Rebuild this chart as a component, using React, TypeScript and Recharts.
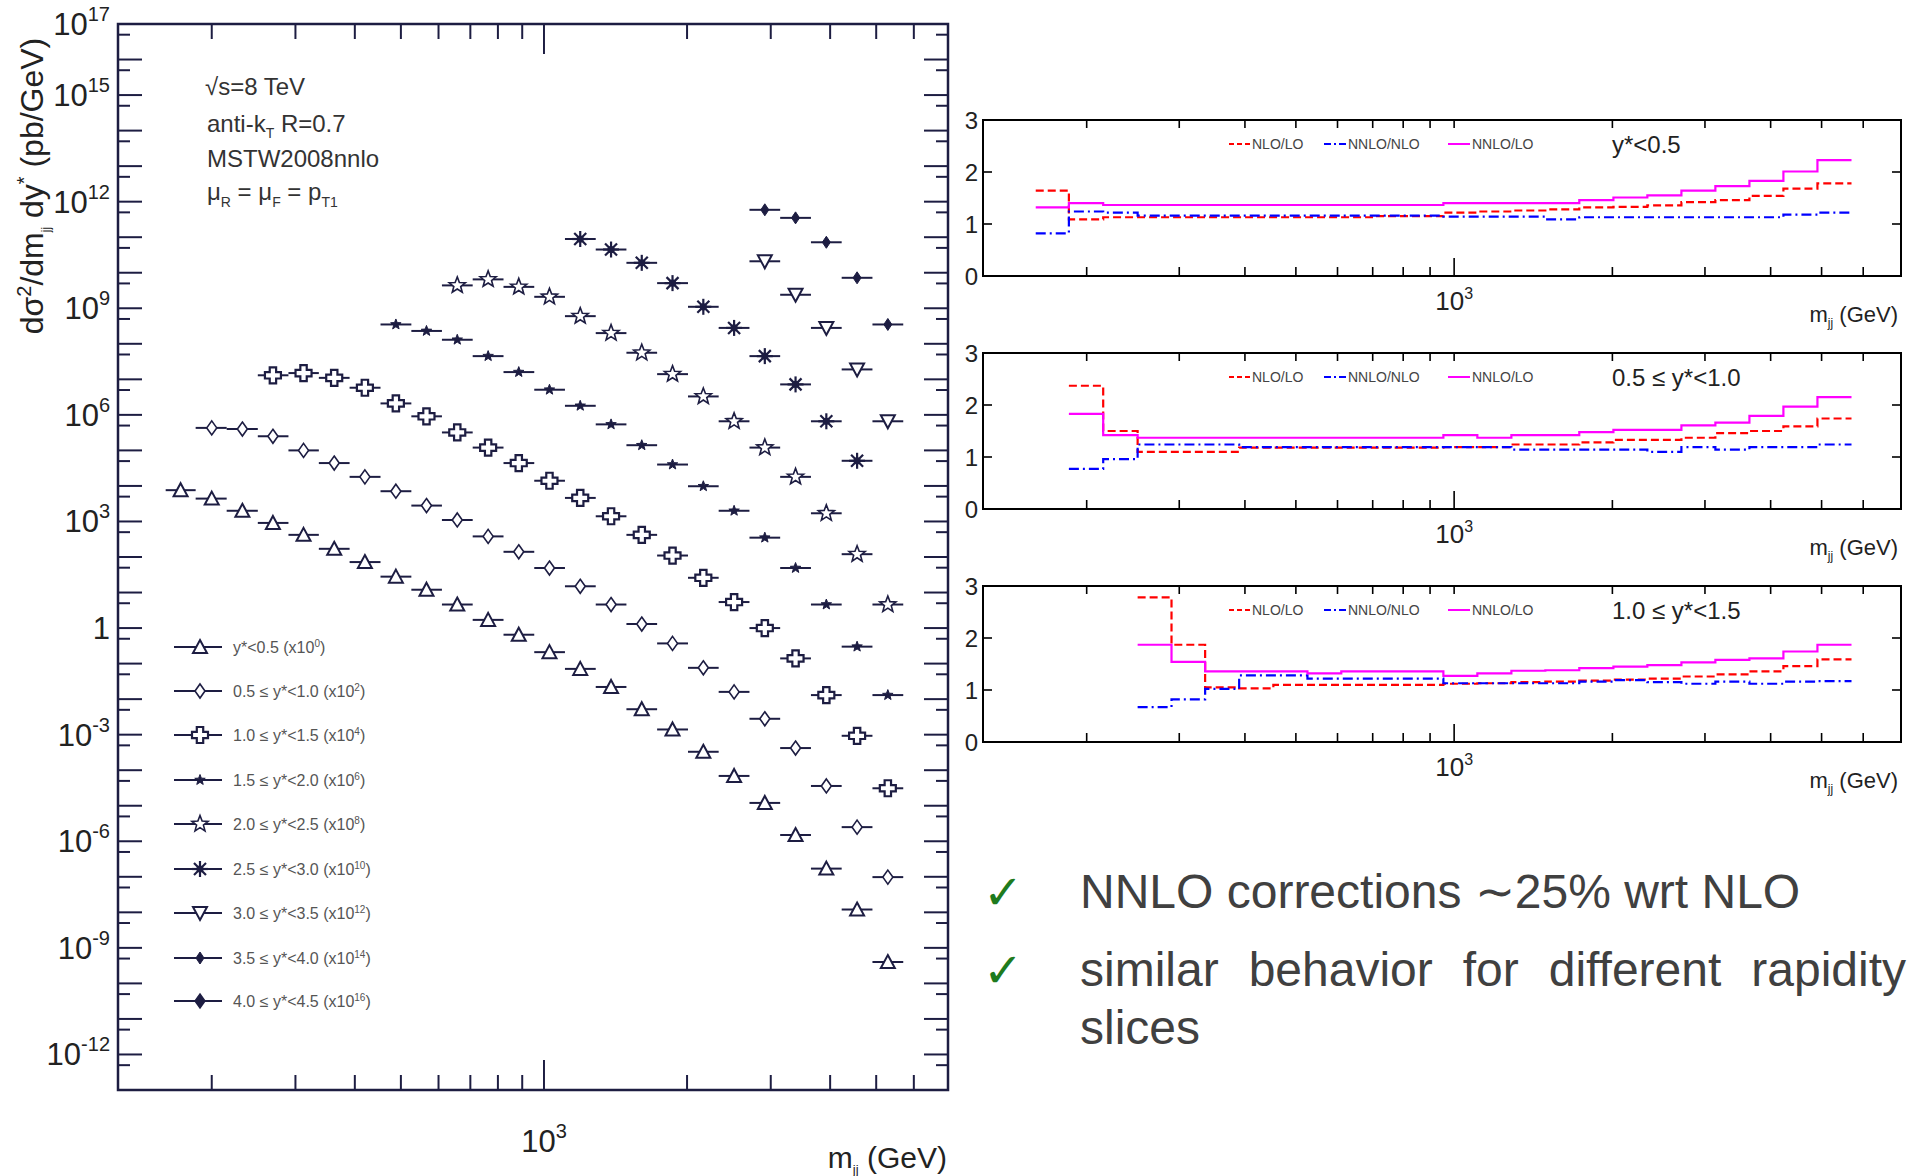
import React from 'react';
import { ScatterChart, Scatter, ErrorBar, LineChart, Line, XAxis, YAxis, ReferenceArea } from 'recharts';

const FONT = '"Liberation Sans", Arial, Helvetica, sans-serif';
const INK = '#1d1d42';

// m_jj bin edges and bin centres (GeV)
const binEdges = [160, 185, 215, 250, 290, 336, 390, 453, 526, 610, 708, 822, 954, 1107, 1285, 1491, 1730, 2009, 2331, 2706, 3140, 3645, 4230, 4910, 5700];
const binCenters = [172, 200, 232, 269, 312, 362, 420, 488, 566, 657, 763, 885, 1027, 1192, 1384, 1606, 1864, 2164, 2512, 2915, 3383, 3927, 4558, 5290];

// d2sigma/dmjj dy* (pb/GeV), already multiplied by the legend factor
const xsY05 = [7.6e3, 4.4e3, 2.0e3, 910, 420, 170, 72, 28, 12, 4.6, 1.7, 0.65, 0.21, 0.071, 0.022, 5.2e-3, 1.4e-3, 3.3e-4, 6.9e-5, 1.2e-5, 1.5e-6, 1.7e-7, 1.2e-8, 4.0e-10];
const xsY10 = [null, 4.3e5, 4.0e5, 2.5e5, 1.0e5, 4.4e4, 1.8e4, 7.1e3, 2.8e3, 1.1e3, 380, 140, 49, 15, 4.6, 1.3, 0.37, 0.076, 0.016, 2.8e-3, 4.2e-4, 3.6e-5, 2.5e-6, 9.8e-8];
const xsY15 = [null, null, null, 1.3e7, 1.5e7, 1.1e7, 5.8e6, 2.1e6, 9.1e5, 3.2e5, 1.2e5, 4.4e4, 1.4e4, 4.6e3, 1.4e3, 420, 110, 26, 5.4, 1.0, 0.14, 0.013, 9.3e-4, 3.1e-5];
const xsY20 = [null, null, null, null, null, null, null, 3.5e8, 2.3e8, 1.3e8, 4.5e7, 1.6e7, 5.1e6, 1.8e6, 5.4e5, 1.4e5, 4.0e4, 9.8e3, 2.0e3, 350, 49, 4.6, 0.30, 0.013];
const xsY25 = [null, null, null, null, null, null, null, null, null, 4.4e9, 6.5e9, 4.0e9, 2.1e9, 6.0e8, 2.0e8, 5.6e7, 1.4e7, 3.3e6, 6.6e5, 1.2e5, 1.8e4, 1.7e3, 120, 4.6];
const xsY30 = [null, null, null, null, null, null, null, null, null, null, null, null, null, 8.9e10, 4.5e10, 1.9e10, 5.1e9, 1.1e9, 2.8e8, 4.5e7, 7.2e6, 6.6e5, 5.1e4, null];
const xsY35 = [null, null, null, null, null, null, null, null, null, null, null, null, null, null, null, null, null, null, null, 2.1e10, 2.4e9, 2.8e8, 1.9e7, 6.6e5];
const xsY40 = [null, null, null, null, null, null, null, null, null, null, null, null, null, null, null, null, null, null, null, 5.9e11, 3.5e11, 7.2e10, 7.2e9, 3.5e8];
const xsY45: (number | null)[] = [];

const sliceNames = ['y*<0.5', '0.5 \u2264 y*<1.0', '1.0 \u2264 y*<1.5', '1.5 \u2264 y*<2.0', '2.0 \u2264 y*<2.5', '2.5 \u2264 y*<3.0', '3.0 \u2264 y*<3.5', '3.5 \u2264 y*<4.0', '4.0 \u2264 y*<4.5'];
const sliceFactors = ['0', '2', '4', '6', '8', '10', '12', '14', '16'];
const sliceMarkers = ['triUp', 'diamond', 'cross', 'smallStar', 'openStar', 'asterisk', 'triDown', 'smallDiamond', 'bigDiamond'];
const sliceValues = [xsY05, xsY10, xsY15, xsY20, xsY25, xsY30, xsY35, xsY40, xsY45];

// ratio panels: NLO/LO, NNLO/NLO, NNLO/LO per bin
const nloLoY05 = [1.64, 1.09, 1.13, 1.13, 1.13, 1.13, 1.13, 1.13, 1.13, 1.13, 1.15, 1.15, 1.22, 1.24, 1.26, 1.28, 1.32, 1.33, 1.36, 1.42, 1.46, 1.54, 1.68, 1.78];
const nnloNloY05 = [0.82, 1.24, 1.22, 1.16, 1.16, 1.16, 1.16, 1.16, 1.16, 1.16, 1.16, 1.16, 1.14, 1.14, 1.14, 1.09, 1.13, 1.13, 1.13, 1.13, 1.13, 1.13, 1.18, 1.22];
const nnloLoY05 = [1.32, 1.40, 1.365, 1.365, 1.365, 1.365, 1.365, 1.365, 1.365, 1.365, 1.365, 1.365, 1.40, 1.40, 1.40, 1.40, 1.46, 1.51, 1.55, 1.64, 1.73, 1.83, 2.01, 2.23];

const nloLoY10 = [null, 2.37, 1.50, 1.10, 1.10, 1.10, 1.18, 1.18, 1.18, 1.18, 1.18, 1.18, 1.19, 1.19, 1.24, 1.24, 1.28, 1.33, 1.33, 1.37, 1.46, 1.50, 1.59, 1.74];
const nnloNloY10 = [null, 0.77, 0.96, 1.24, 1.24, 1.24, 1.19, 1.19, 1.19, 1.19, 1.19, 1.19, 1.19, 1.19, 1.14, 1.14, 1.14, 1.14, 1.10, 1.19, 1.14, 1.19, 1.19, 1.24];
const nnloLoY10 = [null, 1.83, 1.42, 1.37, 1.37, 1.37, 1.37, 1.37, 1.37, 1.37, 1.37, 1.37, 1.42, 1.37, 1.42, 1.42, 1.48, 1.52, 1.52, 1.61, 1.66, 1.79, 1.97, 2.15];

const nloLoY15 = [null, null, null, 2.78, 1.87, 1.05, 1.03, 1.10, 1.10, 1.10, 1.10, 1.10, 1.12, 1.13, 1.15, 1.16, 1.18, 1.20, 1.22, 1.26, 1.30, 1.36, 1.46, 1.59];
const nnloNloY15 = [null, null, null, 0.67, 0.82, 1.02, 1.28, 1.28, 1.22, 1.22, 1.22, 1.22, 1.13, 1.13, 1.13, 1.13, 1.16, 1.19, 1.15, 1.12, 1.16, 1.12, 1.16, 1.17];
const nnloLoY15 = [null, null, null, 1.87, 1.54, 1.36, 1.36, 1.36, 1.32, 1.36, 1.36, 1.36, 1.27, 1.32, 1.37, 1.38, 1.42, 1.45, 1.48, 1.53, 1.58, 1.61, 1.74, 1.87];

const panelTitles = ['y*<0.5', '0.5 \u2264 y*<1.0', '1.0 \u2264 y*<1.5'];
const panelSeries = [
  [nloLoY05, nnloNloY05, nnloLoY05],
  [nloLoY10, nnloNloY10, nnloLoY10],
  [nloLoY15, nnloNloY15, nnloLoY15],
];

const massTicks = [200, 300, 400, 500, 600, 700, 800, 900, 1000, 2000, 3000, 4000, 5000, 6000];
const yLabelExps = [17, 15, 12, 9, 6, 3, 0, -3, -6, -9, -12];
const ratioTicks = [0, 1, 2, 3];

const X_DOMAIN = [127, 7080];
const MAIN_W = 830;
const MAIN_H = 1066;
const PANEL_W = 918;
const PANEL_H = 156;
const panelTops = [120, 353, 586];

// log-axis tick positions: every decade plus 5 x 10^n
const mainYTicks: number[] = [];
for (let e = -13; e <= 17; e++) {
  mainYTicks.push(Number(`1e${e}`));
  if (e < 17) mainYTicks.push(Number(`5e${e}`));
}

const starPts = (cx: number, cy: number, ro: number, ri: number) =>
  Array.from({ length: 10 }, (_, i) => {
    const a = -Math.PI / 2 + (i * Math.PI) / 5;
    const r = i % 2 ? ri : ro;
    return `${cx + r * Math.cos(a)},${cy + r * Math.sin(a)}`;
  }).join(' ');

function Marker({ kind, cx, cy }: { kind: string; cx: number; cy: number }) {
  switch (kind) {
    case 'triUp':
      return <polygon points={`${cx},${cy - 7} ${cx + 7},${cy + 6} ${cx - 7},${cy + 6}`} fill="#fff" stroke={INK} strokeWidth={2} />;
    case 'triDown':
      return <polygon points={`${cx},${cy + 7} ${cx + 7},${cy - 6} ${cx - 7},${cy - 6}`} fill="#fff" stroke={INK} strokeWidth={2} />;
    case 'diamond':
      return <polygon points={`${cx},${cy - 7} ${cx + 5},${cy} ${cx},${cy + 7} ${cx - 5},${cy}`} fill="#fff" stroke={INK} strokeWidth={1.6} />;
    case 'cross': {
      const a = 3.2, b = 8;
      const d = `M${cx - a},${cy - b} h${2 * a} v${b - a} h${b - a} v${2 * a} h${-(b - a)} v${b - a} h${-2 * a} v${-(b - a)} h${-(b - a)} v${-2 * a} h${b - a} z`;
      return <path d={d} fill="#fff" stroke={INK} strokeWidth={2.2} />;
    }
    case 'smallStar':
      return <polygon points={starPts(cx, cy, 5.5, 2.3)} fill={INK} stroke={INK} strokeWidth={1} />;
    case 'openStar':
      return <polygon points={starPts(cx, cy, 8.5, 3.6)} fill="#fff" stroke={INK} strokeWidth={1.6} />;
    case 'asterisk':
      return (
        <g stroke={INK} strokeWidth={2.2}>
          <line x1={cx - 8} y1={cy} x2={cx + 8} y2={cy} />
          <line x1={cx} y1={cy - 8} x2={cx} y2={cy + 8} />
          <line x1={cx - 6} y1={cy - 6} x2={cx + 6} y2={cy + 6} />
          <line x1={cx - 6} y1={cy + 6} x2={cx + 6} y2={cy - 6} />
          <circle cx={cx} cy={cy} r={2.5} fill={INK} />
        </g>
      );
    case 'smallDiamond':
      return <polygon points={`${cx},${cy - 6} ${cx + 4},${cy} ${cx},${cy + 6} ${cx - 4},${cy}`} fill={INK} stroke={INK} strokeWidth={1} />;
    default:
      return <polygon points={`${cx},${cy - 7} ${cx + 5},${cy} ${cx},${cy + 7} ${cx - 5},${cy}`} fill={INK} stroke={INK} strokeWidth={1.4} />;
  }
}

const sliceData = sliceValues.map((vals) =>
  vals.flatMap((v, k) =>
    v == null ? [] : [{ x: binCenters[k], y: v, xErr: [binCenters[k] - binEdges[k], binEdges[k + 1] - binCenters[k]] }]
  )
);

function MainYTick({ x, y, payload }: any) {
  const lg = Math.log10(payload.value);
  const e = Math.round(lg);
  const major = Math.abs(lg - e) < 1e-6;
  const len = major ? 24 : 12;
  return (
    <g>
      <line x1={x} x2={x + len} y1={y} y2={y} stroke={INK} strokeWidth={2} />
      <line x1={x + MAIN_W} x2={x + MAIN_W - len} y1={y} y2={y} stroke={INK} strokeWidth={2} />
      {major && yLabelExps.includes(e) && (
        <text x={x - 8} y={y + 11} textAnchor="end" fontFamily={FONT} fontSize={31} fill="#222">
          {e === 0 ? '1' : <>10<tspan dy={-14} fontSize={20}>{String(e)}</tspan></>}
        </text>
      )}
    </g>
  );
}

function MainXTick({ x, y, payload }: any) {
  const len = payload.value === 1000 ? 30 : 15;
  return (
    <g>
      <line x1={x} x2={x} y1={y} y2={y - len} stroke={INK} strokeWidth={2} />
      <line x1={x} x2={x} y1={y - MAIN_H} y2={y - MAIN_H + len} stroke={INK} strokeWidth={2} />
      {payload.value === 1000 && (
        <text x={x} y={y + 62} textAnchor="middle" fontFamily={FONT} fontSize={31} fill="#222">
          10<tspan dy={-14} fontSize={20}>3</tspan>
        </text>
      )}
    </g>
  );
}

function RatioYTick({ x, y, payload }: any) {
  const v = payload.value;
  const inner = v === 1 || v === 2;
  return (
    <g>
      {inner && <line x1={x} x2={x + 9} y1={y} y2={y} stroke="#000" strokeWidth={1.6} />}
      {inner && <line x1={x + PANEL_W} x2={x + PANEL_W - 9} y1={y} y2={y} stroke="#000" strokeWidth={1.6} />}
      <text x={x - 5} y={y + 9} textAnchor="end" fontFamily={FONT} fontSize={24} fill="#222">{v}</text>
    </g>
  );
}

function RatioXTick({ x, y, payload }: any) {
  const len = payload.value === 1000 ? 18 : 9;
  return (
    <g>
      <line x1={x} x2={x} y1={y} y2={y - len} stroke="#000" strokeWidth={1.6} />
      <line x1={x} x2={x} y1={y - PANEL_H} y2={y - PANEL_H + 8} stroke="#000" strokeWidth={1.6} />
      {payload.value === 1000 && (
        <text x={x} y={y + 34} textAnchor="middle" fontFamily={FONT} fontSize={26} fill="#222">
          10<tspan dy={-11} fontSize={16}>3</tspan>
        </text>
      )}
    </g>
  );
}

function MainPlot() {
  return (
    <ScatterChart width={960} height={1176} margin={{ top: 24, right: 12, bottom: 56, left: 58 }}>
      <XAxis
        type="number"
        dataKey="x"
        scale="log"
        domain={X_DOMAIN}
        allowDataOverflow
        ticks={massTicks}
        interval={0}
        height={30}
        tickSize={0}
        tickMargin={0}
        axisLine={false}
        tick={<MainXTick />}
      />
      <YAxis
        type="number"
        dataKey="y"
        scale="log"
        domain={[1e-13, 1e17]}
        allowDataOverflow
        ticks={mainYTicks}
        interval={0}
        width={60}
        tickSize={0}
        tickMargin={0}
        axisLine={false}
        tick={<MainYTick />}
      />
      <ReferenceArea x1={X_DOMAIN[0]} x2={X_DOMAIN[1]} y1={1e-13} y2={1e17} fill="none" stroke={INK} strokeWidth={2.5} ifOverflow="visible" />
      {sliceData.map((pts, i) => (
        <Scatter
          key={sliceNames[i]}
          name={sliceNames[i]}
          data={pts}
          isAnimationActive={false}
          shape={(p: any) => <Marker kind={sliceMarkers[i]} cx={p.cx} cy={p.cy} />}
        >
          <ErrorBar dataKey="xErr" direction="x" width={0} stroke={INK} strokeWidth={2} />
        </Scatter>
      ))}
    </ScatterChart>
  );
}

function RatioPanel({ idx }: { idx: number }) {
  const [nlo, nnloNlo, nnlo] = panelSeries[idx];
  const rows = binEdges.map((edge, k) => {
    const b = Math.min(k, binCenters.length - 1);
    return { edge, nlo: nlo[b], nnloNlo: nnloNlo[b], nnlo: nnlo[b] };
  });
  return (
    <LineChart width={968} height={246} data={rows} margin={{ top: 20, right: 7, bottom: 40, left: 3 }}>
      <XAxis
        type="number"
        dataKey="edge"
        scale="log"
        domain={X_DOMAIN}
        allowDataOverflow
        ticks={massTicks}
        interval={0}
        height={30}
        tickSize={0}
        tickMargin={0}
        axisLine={false}
        tick={<RatioXTick />}
      />
      <YAxis
        type="number"
        domain={[0, 3]}
        ticks={ratioTicks}
        interval={0}
        width={40}
        tickSize={0}
        tickMargin={0}
        axisLine={false}
        tick={<RatioYTick />}
      />
      <ReferenceArea x1={X_DOMAIN[0]} x2={X_DOMAIN[1]} y1={0} y2={3} fill="none" stroke="#000" strokeWidth={2} ifOverflow="visible" />
      <Line type="stepAfter" dataKey="nlo" stroke="#ff0000" strokeWidth={2.2} strokeDasharray="8 4" dot={false} isAnimationActive={false} />
      <Line type="stepAfter" dataKey="nnloNlo" stroke="#0000ff" strokeWidth={2.2} strokeDasharray="10 4 2 4" dot={false} isAnimationActive={false} />
      <Line type="stepAfter" dataKey="nnlo" stroke="#ff00ff" strokeWidth={2.2} dot={false} isAnimationActive={false} />
    </LineChart>
  );
}

function Overlay() {
  const legendY = [647, 691, 735, 780, 824, 869, 913, 958, 1001];
  return (
    <svg width={1908} height={1176} style={{ position: 'absolute', left: 0, top: 0, pointerEvents: 'none' }} fontFamily={FONT}>
      {/* main y title */}
      <text transform="translate(43,186) rotate(-90)" textAnchor="middle" fontSize={32} fill="#222">
        d{'\u03c3'}<tspan dy={-12} fontSize={20}>2</tspan>
        <tspan dy={12}>/dm</tspan>
        <tspan dy={7} fontSize={12}>jj</tspan>
        <tspan dy={-7}> dy</tspan>
        <tspan dy={-12} fontSize={20}>*</tspan>
        <tspan dy={12}> (pb/GeV)</tspan>
      </text>
      {/* main x title */}
      <text x={947} y={1168} textAnchor="end" fontSize={30} fill="#222">
        m<tspan dy={6} fontSize={13}>jj</tspan><tspan dy={-6}> (GeV)</tspan>
      </text>
      {/* annotations */}
      <g fontSize={24} fill="#333">
        <text x={205} y={95}>{'\u221a'}s=8 TeV</text>
        <text x={207} y={132}>anti-k<tspan dy={6} fontSize={14}>T</tspan><tspan dy={-6}> R=0.7</tspan></text>
        <text x={207} y={167}>MSTW2008nnlo</text>
        <text x={207} y={200}>
          {'\u03bc'}<tspan dy={7} fontSize={14}>R</tspan><tspan dy={-7}> = {'\u03bc'}</tspan>
          <tspan dy={7} fontSize={14}>F</tspan><tspan dy={-7}> = p</tspan>
          <tspan dy={7} fontSize={14}>T1</tspan>
        </text>
      </g>
      {/* main legend */}
      {legendY.map((ly, i) => (
        <g key={sliceNames[i]}>
          <line x1={174} x2={222} y1={ly} y2={ly} stroke={INK} strokeWidth={2} />
          <Marker kind={sliceMarkers[i]} cx={200} cy={ly} />
          <text x={233} y={ly + 6} fontSize={16} fill="#555">
            {sliceNames[i]} (x10<tspan dy={-6} fontSize={10}>{sliceFactors[i]}</tspan><tspan dy={6}>)</tspan>
          </text>
        </g>
      ))}
      {/* ratio panel legends and labels */}
      {panelTops.map((t, i) => (
        <g key={panelTitles[i]}>
          <line x1={1229} x2={1250} y1={t + 24} y2={t + 24} stroke="#ff0000" strokeWidth={2} strokeDasharray="5 3" />
          <text x={1252} y={t + 29} fontSize={14} fill="#444">NLO/LO</text>
          <line x1={1324} x2={1346} y1={t + 24} y2={t + 24} stroke="#0000ff" strokeWidth={2} strokeDasharray="7 3 2 3" />
          <text x={1348} y={t + 29} fontSize={14} fill="#444">NNLO/NLO</text>
          <line x1={1448} x2={1470} y1={t + 24} y2={t + 24} stroke="#ff00ff" strokeWidth={2} />
          <text x={1472} y={t + 29} fontSize={14} fill="#444">NNLO/LO</text>
          <text x={1612} y={t + 33} fontSize={24} fill="#222">{panelTitles[i]}</text>
          <text x={1898} y={t + PANEL_H + 46} textAnchor="end" fontSize={22} fill="#222">
            m<tspan dy={5} fontSize={12}>jj</tspan><tspan dy={-5}> (GeV)</tspan>
          </text>
        </g>
      ))}
    </svg>
  );
}

export default function App() {
  const check: React.CSSProperties = { position: 'absolute', left: 983, fontFamily: '"DejaVu Sans", sans-serif', fontSize: 48, color: '#1e7b1e', lineHeight: '58px' };
  const txt: React.CSSProperties = { position: 'absolute', left: 1080, fontFamily: FONT, fontSize: 48, color: '#404040', lineHeight: '58px' };
  return (
    <div style={{ position: 'absolute', left: 0, top: 0, width: 1908, height: 1176, background: '#fff', overflow: 'hidden' }}>
      <div style={{ position: 'absolute', left: 0, top: 0 }}>
        <MainPlot />
      </div>
      {panelTops.map((t, i) => (
        <div key={i} style={{ position: 'absolute', left: 940, top: t - 20 }}>
          <RatioPanel idx={i} />
        </div>
      ))}
      <Overlay />
      <div style={{ ...check, top: 863 }}>{'\u2713'}</div>
      <div style={{ ...check, top: 941 }}>{'\u2713'}</div>
      <div style={{ ...txt, top: 863, whiteSpace: 'nowrap' }}>NNLO corrections {'\u223c'}25% wrt NLO</div>
      <div style={{ ...txt, top: 941, width: 826, textAlign: 'justify' }}>similar behavior for different rapidity slices</div>
    </div>
  );
}
